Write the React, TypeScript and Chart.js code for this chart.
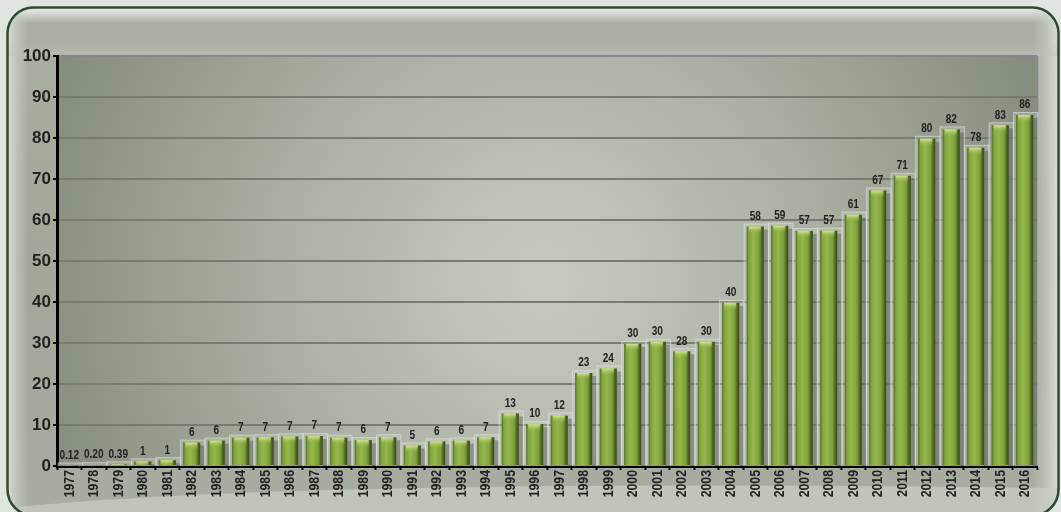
import React, { useEffect, useRef } from "react";
import { Chart, registerables } from "chart.js";

Chart.register(...registerables);

const years = [
  "1977", "1978", "1979", "1980", "1981", "1982", "1983", "1984", "1985", "1986",
  "1987", "1988", "1989", "1990", "1991", "1992", "1993", "1994", "1995", "1996",
  "1997", "1998", "1999", "2000", "2001", "2002", "2003", "2004", "2005", "2006",
  "2007", "2008", "2009", "2010", "2011", "2012", "2013", "2014", "2015", "2016",
];

const values = [
  0.12, 0.2, 0.39, 1.1, 1.4, 5.7, 6.2, 6.9, 7.0, 7.2,
  7.3, 6.9, 6.3, 7.0, 5.0, 6.0, 6.2, 7.0, 12.8, 10.2,
  12.3, 22.7, 23.8, 29.8, 30.3, 28.0, 30.3, 39.8, 58.4, 58.6,
  57.3, 57.4, 61.3, 67.2, 70.8, 79.8, 82.1, 77.6, 83.1, 85.6,
];

const yTicks = [0, 10, 20, 30, 40, 50, 60, 70, 80, 90, 100];

const fmt = (v: number) => (v < 1 ? v.toFixed(2) : String(Math.round(v)));

const FONT = "'Liberation Sans', Arial, sans-serif";

function roundRect(ctx: CanvasRenderingContext2D, x: number, y: number, w: number, h: number, r: number) {
  ctx.beginPath();
  ctx.moveTo(x + r, y);
  ctx.lineTo(x + w - r, y);
  ctx.arcTo(x + w, y, x + w, y + r, r);
  ctx.lineTo(x + w, y + h - r);
  ctx.arcTo(x + w, y + h, x + w - r, y + h, r);
  ctx.lineTo(x + r, y + h);
  ctx.arcTo(x, y + h, x, y + h - r, r);
  ctx.lineTo(x, y + r);
  ctx.arcTo(x, y, x + r, y, r);
  ctx.closePath();
}

const backdrop = {
  id: "backdrop",
  beforeDraw(chart: any) {
    const ctx: CanvasRenderingContext2D = chart.ctx;
    const W = chart.width;
    const H = chart.height;
    ctx.save();
    ctx.fillStyle = "#e1e5e0";
    ctx.fillRect(0, 0, W, H);

    const fx = 7.5, fy = 7.5, fw = 1051, fh = 508, fr = 26;
    roundRect(ctx, fx, fy, fw, fh, fr);
    const vg = ctx.createLinearGradient(0, fy, 0, fy + fh);
    vg.addColorStop(0, "#eef0ec");
    vg.addColorStop(0.01, "#d8dcd4");
    vg.addColorStop(0.03, "#a9b0a3");
    vg.addColorStop(0.5, "#9fa899");
    vg.addColorStop(1, "#a6ada1");
    ctx.fillStyle = vg;
    ctx.fill();

    ctx.save();
    roundRect(ctx, fx, fy, fw, fh, fr);
    ctx.clip();
    const hg = ctx.createLinearGradient(fx, 0, fx + fw, 0);
    hg.addColorStop(0, "rgba(225,228,222,0.9)");
    hg.addColorStop(0.008, "rgba(210,214,206,0.6)");
    hg.addColorStop(0.02, "rgba(200,205,196,0)");
    hg.addColorStop(0.975, "rgba(200,205,196,0)");
    hg.addColorStop(0.99, "rgba(210,214,206,0.6)");
    hg.addColorStop(1, "rgba(225,228,222,0.9)");
    ctx.fillStyle = hg;
    ctx.fillRect(fx, fy, fw, fh);
    const bg = ctx.createLinearGradient(0, 40, 0, 56);
    bg.addColorStop(0, "rgba(190,194,184,0)");
    bg.addColorStop(1, "rgba(190,194,184,0.55)");
    ctx.fillStyle = bg;
    ctx.fillRect(fx, 40, fw, 16);
    ctx.beginPath();
    ctx.moveTo(fx, 508);
    ctx.quadraticCurveTo(300, 478, fx + fw, 488);
    ctx.lineTo(fx + fw, H + 10);
    ctx.lineTo(fx, H + 10);
    ctx.closePath();
    ctx.fillStyle = "rgba(200,205,194,0.75)";
    ctx.fill();
    ctx.restore();

    roundRect(ctx, fx, fy, fw, fh, fr);
    ctx.strokeStyle = "#2e4a30";
    ctx.lineWidth = 2.5;
    ctx.stroke();

    const a = chart.chartArea;
    if (a) {
      const rg = ctx.createRadialGradient(545, 280, 0, 545, 280, 600);
      rg.addColorStop(0, "#c8cbc1");
      rg.addColorStop(0.45, "#aab0a3");
      rg.addColorStop(1, "#7a8573");
      ctx.fillStyle = rg;
      ctx.fillRect(a.left, a.top, a.right - a.left, a.bottom - a.top);
      ctx.strokeStyle = "#8b8b8f";
      ctx.lineWidth = 2.5;
      ctx.beginPath();
      ctx.moveTo(a.right, a.top);
      ctx.lineTo(a.right, a.bottom);
      ctx.stroke();
    }
    ctx.restore();
  },
  afterDraw(chart: any) {
    const ctx: CanvasRenderingContext2D = chart.ctx;
    const xs = chart.scales.x;
    ctx.save();
    ctx.fillStyle = "#222";
    ctx.font = `bold 15px ${FONT}`;
    ctx.textAlign = "right";
    ctx.textBaseline = "middle";
    years.forEach((lab, i) => {
      const x = xs.getPixelForValue(i);
      ctx.save();
      ctx.translate(x + 0.5, xs.top + 4);
      ctx.rotate(-Math.PI / 2);
      ctx.scale(0.82, 1);
      ctx.fillText(lab, 0, 0);
      ctx.restore();
    });
    ctx.restore();
  },
};

const barDecor = {
  id: "barDecor",
  beforeDatasetsDraw(chart: any) {
    const ctx: CanvasRenderingContext2D = chart.ctx;
    const meta = chart.getDatasetMeta(0);
    const base = chart.scales.y.getPixelForValue(0);
    ctx.save();
    meta.data.forEach((bar: any) => {
      const half = bar.width / 2;
      const bx = bar.x - half - 3;
      const by = bar.y - 3;
      ctx.fillStyle = "rgba(212,217,206,0.28)";
      ctx.fillRect(bx, by, bar.width + 8, base - by);
      ctx.strokeStyle = "rgba(225,229,220,0.55)";
      ctx.lineWidth = 1;
      ctx.strokeRect(bx + 0.5, by + 0.5, bar.width + 7, base - by - 1);
      ctx.fillStyle = "rgba(55,60,50,0.35)";
      ctx.fillRect(bar.x + half, bar.y + 3, 4, base - bar.y - 3);
    });
    ctx.restore();
  },
  afterDatasetsDraw(chart: any) {
    const ctx: CanvasRenderingContext2D = chart.ctx;
    const meta = chart.getDatasetMeta(0);
    const base = chart.scales.y.getPixelForValue(0);
    ctx.save();
    meta.data.forEach((bar: any, i: number) => {
      const half = bar.width / 2;
      const h = Math.min(7, base - bar.y);
      if (h > 1) {
        const tg = ctx.createLinearGradient(0, bar.y, 0, bar.y + h);
        tg.addColorStop(0, "rgba(215,235,150,0.95)");
        tg.addColorStop(1, "rgba(150,180,80,0)");
        ctx.fillStyle = tg;
        ctx.fillRect(bar.x - half + 2, bar.y, bar.width - 5, h);
      }
      ctx.save();
      ctx.fillStyle = "#222";
      ctx.font = `bold 12px ${FONT}`;
      ctx.textAlign = "center";
      ctx.textBaseline = "middle";
      ctx.translate(bar.x, bar.y - 10);
      ctx.scale(0.84, 1);
      ctx.fillText(fmt(values[i]), 0, 0);
      ctx.restore();
    });
    ctx.restore();
  },
};

export default function App() {
  const ref = useRef<HTMLCanvasElement | null>(null);

  useEffect(() => {
    document.body.style.margin = "0";
    const canvas = ref.current;
    if (!canvas) return;
    const chart = new Chart(canvas, {
      type: "bar",
      data: {
        labels: years,
        datasets: [
          {
            data: values,
            barPercentage: 0.7,
            categoryPercentage: 1,
            borderWidth: 0,
            backgroundColor: (c: any) => {
              const ch = c.chart;
              const xs = ch.scales && ch.scales.x;
              if (!ch.chartArea || !xs) return "#7d9d3a";
              const x = xs.getPixelForValue(c.dataIndex);
              const half = ((xs.right - xs.left) / years.length) * 0.35;
              const g = ch.ctx.createLinearGradient(x - half, 0, x + half, 0);
              g.addColorStop(0, "#4f6822");
              g.addColorStop(0.12, "#80a43c");
              g.addColorStop(0.4, "#94b84c");
              g.addColorStop(0.72, "#7da039");
              g.addColorStop(0.88, "#4e6620");
              g.addColorStop(1, "#34461a");
              return g;
            },
          },
        ],
      },
      options: {
        responsive: false,
        animation: false,
        devicePixelRatio: 1,
        layout: { padding: { left: 0, top: 56, right: 24, bottom: 0 } },
        plugins: { legend: { display: false }, tooltip: { enabled: false } },
        scales: {
          x: {
            afterFit: (s: any) => {
              s.height = 46;
            },
            border: { display: true, color: "#000", width: 3 },
            grid: {
              display: true,
              drawOnChartArea: false,
              drawTicks: true,
              tickLength: 4,
              tickColor: "#000",
              tickWidth: 2,
              offset: true,
            },
            ticks: {
              autoSkip: false,
              minRotation: 90,
              maxRotation: 90,
              padding: 2,
              color: "rgba(0,0,0,0)",
              font: { family: FONT, size: 12, weight: "bold" },
            },
          },
          y: {
            min: 0,
            max: 100,
            afterFit: (s: any) => {
              s.width = 57;
            },
            afterBuildTicks: (s: any) => {
              s.ticks = yTicks.map((v) => ({ value: v }));
            },
            border: { display: true, color: "#000", width: 3 },
            grid: {
              color: (c: any) => (c.tick && c.tick.value === 100 ? "#86868b" : "#767c71"),
              lineWidth: 2,
              tickColor: "#000",
              tickLength: 4,
              tickWidth: 2,
            },
            ticks: {
              padding: 2,
              color: "#222",
              font: { family: FONT, size: 17, weight: "bold" },
            },
          },
        },
      },
      plugins: [backdrop, barDecor],
    } as any);
    return () => chart.destroy();
  }, []);

  return (
    <div style={{ width: 1061, height: 512 }}>
      <canvas ref={ref} width={1061} height={512} style={{ display: "block", width: 1061, height: 512 }} />
    </div>
  );
}
